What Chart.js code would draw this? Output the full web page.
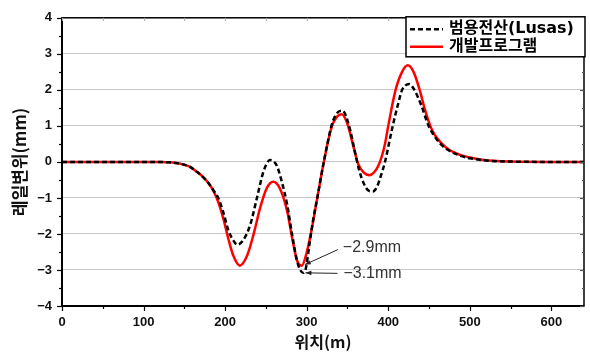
<!DOCTYPE html>
<html><head><meta charset="utf-8">
<script src="https://cdn.jsdelivr.net/npm/chart.js@4.4.1/dist/chart.umd.min.js"></script>
<style>html,body{margin:0;padding:0;background:#fff}</style>
</head><body>
<canvas id="c" width="590" height="354"></canvas>
<script>
// ---- data ----
const lusasLabel = '범용전산(Lusas)';
const devLabel = '개발프로그램';
const xTitle = '위치(m)';
const yTitle = '레일변위(mm)';

const lusasX = [0, 50, 100, 120, 130, 140, 150, 157, 165, 173, 180, 186, 192, 198, 204, 210, 215, 222, 231, 239, 247, 255, 263, 269.5, 276, 282, 288, 292, 296, 299, 303, 308, 313, 321, 331, 337, 344, 352, 358, 364, 370, 376, 381, 386, 391, 396, 405.5, 412, 417, 421, 426, 432, 440, 449.5, 457, 464, 472, 480, 490, 500, 520, 550, 600, 640];
const lusasY = [0, 0, 0, 0, -0.01, -0.03, -0.08, -0.14, -0.27, -0.42, -0.6, -0.8, -1.02, -1.42, -1.9, -2.18, -2.3, -2.18, -1.73, -1.0, -0.27, 0.05, -0.09, -0.55, -1.18, -2.0, -2.73, -3.0, -3.08, -2.95, -2.35, -1.6, -1.0, 0, 1.05, 1.35, 1.42, 1.0, 0.4, -0.2, -0.6, -0.8, -0.82, -0.7, -0.38, 0, 1.0, 1.6, 2.0, 2.12, 2.16, 2.0, 1.6, 1.0, 0.7, 0.5, 0.35, 0.25, 0.16, 0.1, 0.04, 0.01, 0, 0];

const devX = [0, 50, 100, 120, 130, 140, 150, 157, 165, 173, 180, 186, 192, 198, 204, 210, 218, 227, 235, 243, 251, 259, 267, 276, 282, 288, 294, 299, 305, 313, 321, 331, 337, 343, 350, 357, 363, 370, 377, 383, 388, 392, 396, 400, 409, 417, 424, 431, 438.5, 445, 451.5, 457, 464, 472, 480, 490, 500, 517, 550, 600, 640];
const devY = [0, 0, 0, 0, -0.01, -0.03, -0.08, -0.14, -0.27, -0.42, -0.6, -0.82, -1.14, -1.59, -2.14, -2.6, -2.88, -2.6, -2.0, -1.27, -0.73, -0.55, -0.73, -1.36, -2.09, -2.73, -2.88, -2.6, -2.0, -1.0, 0, 1.0, 1.25, 1.32, 1.05, 0.45, -0.05, -0.3, -0.37, -0.28, -0.1, 0.15, 0.5, 1.0, 2.0, 2.5, 2.68, 2.5, 2.0, 1.45, 1.0, 0.75, 0.55, 0.38, 0.27, 0.18, 0.12, 0.05, 0.01, 0, 0];

const xTicks = [0, 100, 200, 300, 400, 500, 600];
const yTicks = [-4, -3, -2, -1, 0, 1, 2, 3, 4];

// annotated values: label, position on curve
const noteLabels = ['−2.9mm', '−3.1mm'];
const noteX = [294, 296];
const noteY = [-2.88, -3.08];

// ---- drawing ----
const tickFont = {family: 'Liberation Sans, Arial, sans-serif', size: 13, weight: 'bold'};
const krFont = '"Noto Sans CJK KR", sans-serif';
const legFont = 'bold 16px "DejaVu Sans", "Noto Sans CJK KR", sans-serif';
const fmt = v => String(v).replace('-', '−');

const decoPlugin = {
  id: 'deco',
  afterDatasetsDraw(chart) {
    const ctx = chart.ctx, a = chart.chartArea;
    const xs = chart.scales.x, ys = chart.scales.y;
    ctx.save();
    // annotations
    ctx.strokeStyle = '#222'; ctx.fillStyle = '#222'; ctx.lineWidth = 1;
    const arrow = (x1, y1, x2, y2) => {
      ctx.beginPath(); ctx.moveTo(x1, y1); ctx.lineTo(x2, y2); ctx.stroke();
      const ang = Math.atan2(y2 - y1, x2 - x1), L = 6, W = 2.2;
      ctx.beginPath();
      ctx.moveTo(x2, y2);
      ctx.lineTo(x2 - L * Math.cos(ang) + W * Math.sin(ang), y2 - L * Math.sin(ang) - W * Math.cos(ang));
      ctx.lineTo(x2 - L * Math.cos(ang) - W * Math.sin(ang), y2 - L * Math.sin(ang) + W * Math.cos(ang));
      ctx.closePath(); ctx.fill();
    };
    const p0 = {x: xs.getPixelForValue(noteX[0]), y: ys.getPixelForValue(noteY[0])};
    const p1 = {x: xs.getPixelForValue(noteX[1]), y: ys.getPixelForValue(noteY[1])};
    arrow(p0.x + 36, p0.y - 16, p0.x + 3, p0.y - 1);
    arrow(p1.x + 34, p1.y + 0.5, p1.x + 2, p1.y);
    ctx.fillStyle = '#333';
    ctx.font = '16px "Liberation Sans", Arial, sans-serif';
    ctx.textBaseline = 'middle'; ctx.textAlign = 'left';
    ctx.fillText(noteLabels[0], p0.x + 41, p0.y - 18);
    ctx.fillText(noteLabels[1], p1.x + 40, p1.y + 0.5);

    // frame
    ctx.strokeStyle = '#000';
    ctx.lineWidth = 1.5;
    ctx.strokeRect(a.left, a.top, a.right - a.left, a.bottom - a.top);
    ctx.lineWidth = 2;
    ctx.beginPath();
    ctx.moveTo(a.left, a.top); ctx.lineTo(a.left, a.bottom); ctx.lineTo(a.right, a.bottom);
    ctx.stroke();

    // tick marks
    ctx.lineWidth = 1.2;
    for (let v = -4; v <= 4.001; v += 0.5) {
      const y = Math.round(ys.getPixelForValue(v)) + 0.5;
      const major = Math.abs(v - Math.round(v)) < 1e-6;
      const L = major ? 5 : 3;
      ctx.strokeStyle = '#000';
      ctx.beginPath(); ctx.moveTo(a.left - L, y); ctx.lineTo(a.left, y); ctx.stroke();
      ctx.strokeStyle = '#555';
      ctx.beginPath(); ctx.moveTo(a.right - L + 1, y); ctx.lineTo(a.right, y); ctx.stroke();
    }
    for (let v = 0; v <= 640; v += 50) {
      const x = Math.round(xs.getPixelForValue(v)) + 0.5;
      const major = v % 100 === 0;
      const L = major ? 5 : 3;
      ctx.strokeStyle = '#000';
      ctx.beginPath(); ctx.moveTo(x, a.bottom); ctx.lineTo(x, a.bottom + L); ctx.stroke();
      ctx.strokeStyle = '#aaa';
      ctx.beginPath(); ctx.moveTo(x, a.top); ctx.lineTo(x, a.top + 3); ctx.stroke();
    }

    // axis titles
    ctx.fillStyle = '#111';
    ctx.font = 'bold 16px ' + krFont;
    ctx.textAlign = 'center'; ctx.textBaseline = 'middle';
    ctx.fillText(xTitle, (a.left + a.right) / 2, 342);
    ctx.save();
    ctx.translate(20, (a.top + a.bottom) / 2);
    ctx.rotate(-Math.PI / 2);
    ctx.font = 'bold 17px ' + krFont;
    ctx.fillText(yTitle, 0, 0);
    ctx.restore();

    // legend
    const bx = a.right - 178, by = a.top - 1, bw = 179, bh = 40;
    ctx.fillStyle = '#fff';
    ctx.fillRect(bx, by, bw, bh);
    ctx.strokeStyle = '#000'; ctx.lineWidth = 1.5;
    ctx.strokeRect(bx, by, bw, bh);
    const ds = chart.data.datasets;
    ds.forEach((d, i) => {
      const cy = by + 12.5 + i * 17.5;
      ctx.strokeStyle = d.borderColor; ctx.lineWidth = 2.5;
      ctx.setLineDash(d.borderDash || []);
      ctx.beginPath(); ctx.moveTo(bx + 4, cy); ctx.lineTo(bx + 37, cy); ctx.stroke();
      ctx.setLineDash([]);
      ctx.fillStyle = '#000';
      ctx.font = legFont;
      ctx.textAlign = 'left'; ctx.textBaseline = 'middle';
      ctx.fillText(d.label, bx + 43, cy);
    });
    ctx.restore();
  }
};

new Chart(document.getElementById('c'), {
  type: 'line',
  data: {
    datasets: [
      {label: lusasLabel, data: lusasX.map((x, i) => ({x, y: lusasY[i]})),
       borderColor: '#000', borderWidth: 2.5, borderDash: [5, 3], pointRadius: 0,
       cubicInterpolationMode: 'monotone', fill: false},
      {label: devLabel, data: devX.map((x, i) => ({x, y: devY[i]})),
       borderColor: '#ff0000', borderWidth: 2.5, pointRadius: 0,
       cubicInterpolationMode: 'monotone', fill: false}
    ]
  },
  options: {
    responsive: false, animation: false, devicePixelRatio: 1,
    layout: {padding: {left: 0, top: 14, right: 6, bottom: 0}},
    plugins: {legend: {display: false}, tooltip: {enabled: false}},
    scales: {
      x: {
        type: 'linear', min: 0, max: 640,
        afterBuildTicks: s => { s.ticks = xTicks.map(v => ({value: v})); },
        grid: {display: false, drawTicks: false}, border: {display: false},
        ticks: {font: tickFont, color: '#111', padding: 9, maxRotation: 0, autoSkip: false, callback: fmt},
        afterFit: s => { s.height = 48; }
      },
      y: {
        min: -4, max: 4,
        afterBuildTicks: s => { s.ticks = yTicks.map(v => ({value: v})); },
        grid: {color: '#c8c8c8', lineWidth: 1, drawTicks: false}, border: {display: false},
        ticks: {font: tickFont, color: '#111', padding: 10, autoSkip: false, callback: fmt},
        afterFit: s => { s.width = 62; }
      }
    }
  },
  plugins: [decoPlugin]
});
</script>
</body></html>
